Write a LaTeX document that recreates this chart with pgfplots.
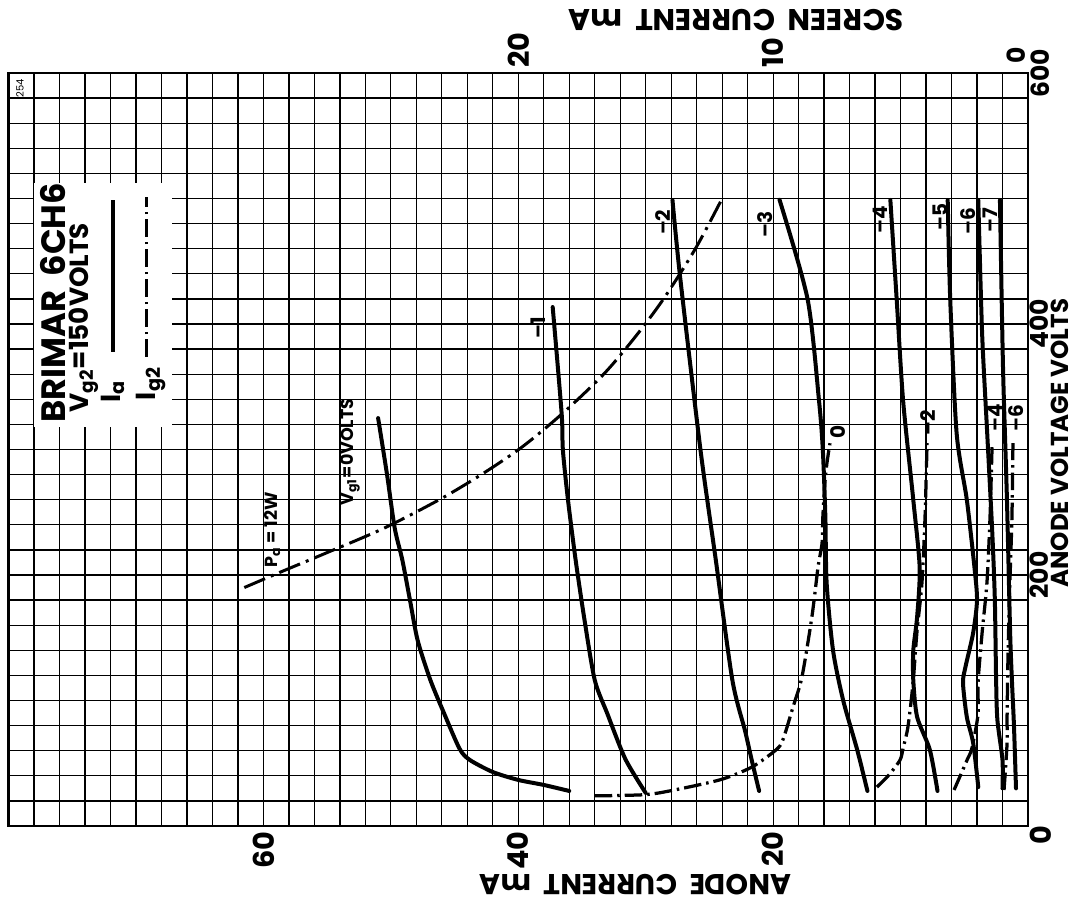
\documentclass[border=0pt]{standalone}
\usepackage{pgfplots}
\pgfplotsset{compat=1.18}
\usepackage{fontspec}
\setmainfont{Poppins}
\newcommand\tlf{\fontsize{11.5}{12}\selectfont\bfseries}
\newcommand\ylf{\fontsize{10}{11}\selectfont\bfseries}
\newcommand\clf{\fontsize{8}{8}\selectfont\bfseries}
\begin{document}
\begin{tikzpicture}
\path[use as bounding box] (0pt,0pt) rectangle (430.8pt,360.4pt);
\pgfplotsset{
  iastyle/.style={black, line width=1.6pt, smooth, tension=0.45, line join=round, line cap=round},
  igstyle/.style={black, line width=1.3pt, smooth, tension=0.45, dash pattern=on 7pt off 2pt on 1pt off 2pt},
}
\begin{axis}[
  at={(3.44pt,30pt)}, anchor=south west,
  scale only axis, width=407.76pt, height=301.2pt,
  xmin=0, xmax=80, ymin=0, ymax=600, x dir=reverse,
  xtick={0,2,...,80}, ytick={0,20,...,600},
  xticklabels={,,,,,,,,,,20,,,,,,,,,,40,,,,,,,,,,60,,,,,,,,,,},
  yticklabels={,,,,,,,,,,200,,,,,,,,,,400,,,,,,,,,,},
  major tick length=0pt,
  grid=major, major grid style={black, line width=0.5pt},
  axis line style={black, line width=1.1pt},
  yticklabel pos=right,
  /pgf/number format/assume math mode=true,
  xticklabel style={rotate=90, anchor=east, font=\tlf, inner sep=2pt},
  yticklabel style={rotate=90, anchor=north, font=\ylf, inner sep=0.5pt},
  clip=false,
]
% legend box background
\fill[white] (axis cs:78,318) rectangle (axis cs:67.2,512);

% Anode current Ia curves
\addplot[iastyle] coordinates {(36.0,27.9) (38.0,32.7) (40.0,36.7) (42.0,43.0) (43.8,52.6) (44.6,61.4) (45.8,89.2) (46.9,116.3) (47.9,148) (48.5,180) (49.1,212) (49.7,237.5) (50.3,280) (51.0,325)};
\addplot[iastyle] coordinates {(30.0,26.3) (31.6,53.4) (33.0,89.2) (34.0,116.3) (34.8,164) (35.5,212) (36.1,259.8) (36.5,299.6) (36.6,329) (37.3,413.5)};
\addplot[iastyle] coordinates {(21.1,27.9) (21.7,53.4) (22.2,75.7) (23.2,116.3) (24.5,212) (25.7,299.6) (27.3,437.5) (27.9,498.8)};
\addplot[iastyle] coordinates {(12.6,27.9) (13.4,60.6) (14.5,100) (15.3,140) (15.8,193.6) (15.9,246) (16.1,299.6) (16.4,339) (17.3,420) (19.5,499)};
\addplot[iastyle] coordinates {(7.1,27.9) (7.7,60.6) (8.7,86.9) (9.0,116) (9.0,140) (8.7,166.5) (8.5,206) (9.0,259.8) (9.8,339) (10.3,419) (10.8,498.8)};
\addplot[iastyle] coordinates {(3.9,31) (4.3,66) (4.8,86.9) (5.1,114) (4.9,127) (4.3,154) (4.0,180) (4.2,206) (4.8,260) (5.6,313) (6.1,419) (6.3,498.8)};
\addplot[iastyle] coordinates {(2.0,30) (2.0,52.6) (2.4,84.5) (2.5,116) (2.6,180) (2.8,233.5) (3.2,313) (3.6,392.8) (3.9,498.8)};
\addplot[iastyle] coordinates {(0.94,30) (1.1,80) (1.26,116) (1.4,154) (1.65,260) (1.96,365.7) (2.2,498.8)};

% Pa = 12 W dissipation line
\addplot[black, line width=1.2pt, smooth, dash pattern=on 9pt off 2.5pt on 1.2pt off 2.5pt] coordinates {(61.5,190) (58.5,203) (55.2,217) (50.6,237) (46.2,260) (42.9,280) (39.7,302) (36.5,329) (33.3,360) (30.8,390) (28.6,420) (26.1,460) (24.0,500)};

% curve labels
\node[rotate=90, font=\clf] at (axis cs:38.4,397) {--1};
\node[rotate=90, font=\clf] at (axis cs:28.65,481) {--2};
\node[rotate=90, font=\clf] at (axis cs:20.6,479) {--3};
\node[rotate=90, font=\clf] at (axis cs:11.6,483) {--4};
\node[rotate=90, font=\clf] at (axis cs:6.9,485) {--5};
\node[rotate=90, font=\clf] at (axis cs:4.7,482) {--6};
\node[rotate=90, font=\clf] at (axis cs:3.0,483) {--7};
\node[rotate=90, font=\clf] at (axis cs:14.9,314) {0};
\node[rotate=90, font=\clf] at (axis cs:7.85,321) {--2};
\node[rotate=90, font=\clf] at (axis cs:2.6,325) {--4};
\node[rotate=90, font=\clf] at (axis cs:0.94,325) {--6};
\node[rotate=90, font=\fontsize{7}{7}\selectfont\bfseries] at (axis cs:59.3,236) {P\textsubscript{a} = 12W};
\node[rotate=90, font=\fontsize{7}{7}\selectfont\bfseries] at (axis cs:53.2,298) {V\textsubscript{g1}=0VOLTS};
\node[rotate=90, font=\fontsize{4}{4}\selectfont] at (axis cs:79.1,588) {254};

% legend
\node[rotate=90, anchor=base west, font=\fontsize{13.5}{14}\selectfont\bfseries, inner sep=0pt] at (axis cs:75.5,321) {BRIMAR\ \ 6CH6};
\node[rotate=90, anchor=base west, font=\fontsize{10.5}{11}\selectfont\bfseries, inner sep=0pt] at (axis cs:73.7,329) {V\textsubscript{g2}=150VOLTS};
\node[rotate=90, anchor=base west, font=\fontsize{11}{11}\selectfont\bfseries, inner sep=0pt] at (axis cs:71.2,337) {I\textsubscript{a}};
\node[rotate=90, anchor=base west, font=\fontsize{11}{11}\selectfont\bfseries, inner sep=0pt] at (axis cs:68.5,339) {I\textsubscript{g2}};
\draw[black, line width=1.6pt] (axis cs:71.8,378) -- (axis cs:71.8,499);
\draw[black, line width=1.3pt, dash pattern=on 7pt off 2pt on 1pt off 2pt] (axis cs:69.15,374) -- (axis cs:69.15,501);

% axis titles and corner labels
\node[rotate=90, font=\tlf] at (axis cs:-1.0,-7) {0};
\node[rotate=90, font=\ylf] at (axis cs:-1.0,600) {600};
\node[rotate=180, font=\fontsize{11.5}{12}\selectfont\bfseries] at (axis cs:30.8,-47) {ANODE\ \ CURRENT\ \ mA};
\node[rotate=90, anchor=base, inner sep=0pt, font=\fontsize{9.8}{11}\selectfont\bfseries] at (axis cs:-3.2,305) {ANODE VOLTAGE VOLTS};
\node[rotate=180, font=\fontsize{12}{12}\selectfont\bfseries] at (axis cs:22.9,642) {SCREEN\ \ CURRENT\ \ mA};
\node[rotate=90, font=\fontsize{10}{11}\selectfont\bfseries] at (axis cs:0.95,614) {0};
\end{axis}

\begin{axis}[
  at={(3.44pt,30pt)}, anchor=south west,
  scale only axis, width=407.76pt, height=301.2pt,
  xmin=0, xmax=40, ymin=0, ymax=600, x dir=reverse,
  axis x line*=top, hide y axis,
  axis line style={black, line width=1.1pt},
  xtick={10,20}, xticklabels={10,20},
  major tick length=0pt,
  /pgf/number format/assume math mode=true,
  xticklabel style={rotate=90, anchor=west, font=\tlf, inner sep=2pt},
  clip=false,
]
\addplot[igstyle] coordinates {(17.0,24) (15.0,25) (13.8,29) (12.05,37) (10.83,47) (9.89,60.6) (9.62,68.5) (9.22,94.8) (8.87,118.7) (8.48,166.5) (8.24,206) (8.08,225.5) (8.05,246) (7.97,273) (7.89,289) (7.77,305)};
\addplot[igstyle] coordinates {(5.93,31) (5.46,40.6) (5.02,52.6) (4.9,62) (4.71,79) (4.51,114) (4.36,154) (4.16,194) (4.04,246) (3.96,305)};
\addplot[igstyle] coordinates {(2.9,28.7) (2.39,52.6) (2.2,62) (1.96,89) (1.96,114) (1.8,154) (1.61,194) (1.49,246) (1.41,302)};
\addplot[igstyle] coordinates {(0.94,28.7) (0.82,66) (0.82,87) (0.78,140) (0.71,194) (0.63,246) (0.59,305)};
\end{axis}
\end{tikzpicture}
\end{document}
